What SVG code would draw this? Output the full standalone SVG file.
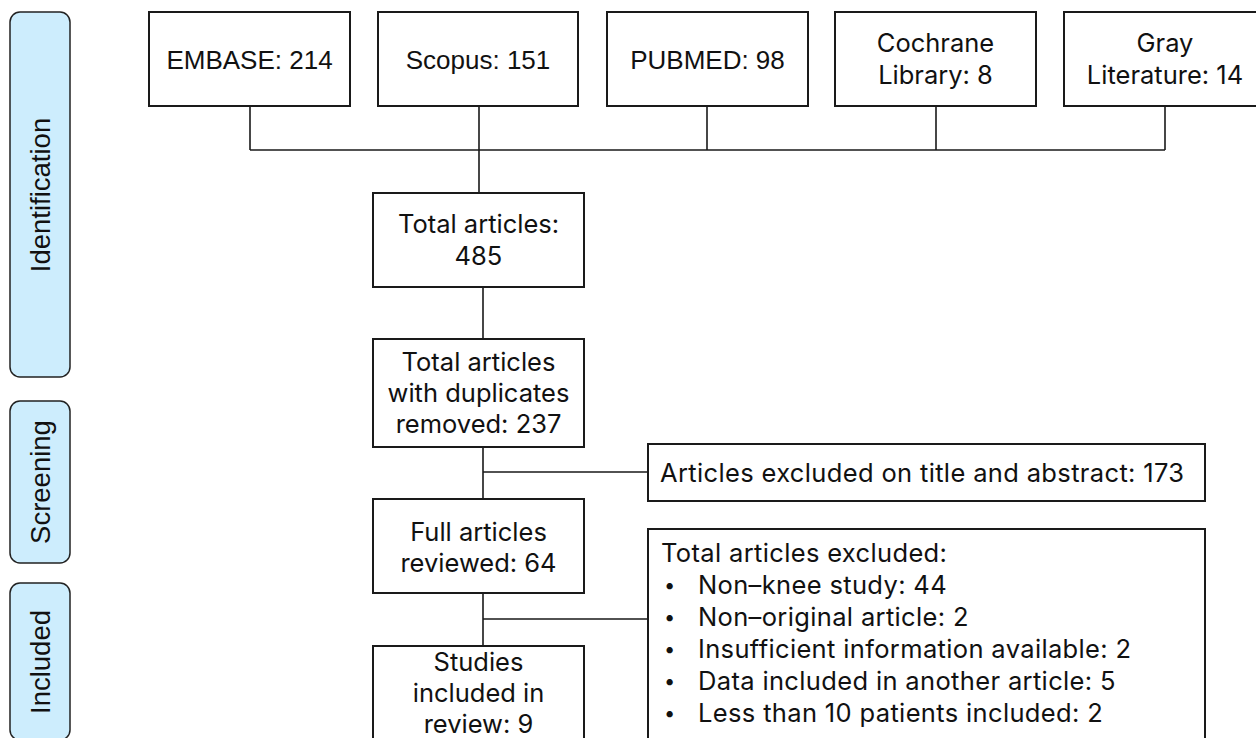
<svg xmlns="http://www.w3.org/2000/svg" width="1256" height="738" viewBox="0 0 1256 738">
<style>
.phase{fill:#cdedfd;stroke:#222;stroke-width:1.5}
.box{fill:#fff;stroke:#1a1a1a;stroke-width:2}
.ln{fill:none;stroke:#1a1a1a;stroke-width:1.6}
.t{font-family:Inter,"Noto Sans",sans-serif;font-size:25.5px;fill:#111;text-anchor:middle}
.h{font-family:"Liberation Sans",Arial,sans-serif;font-size:26px;fill:#111;text-anchor:middle}
.l{font-family:Inter,"Noto Sans",sans-serif;font-size:25.5px;fill:#111;letter-spacing:0.35px}
.b{font-family:Inter,"Noto Sans",sans-serif;font-size:20px;fill:#111}
.p{font-family:"Liberation Sans",Arial,sans-serif;font-size:27.5px;fill:#111;text-anchor:middle}
</style>
<rect width="1256" height="738" fill="#fff"/>
<g id="phase-identification">
<rect class="phase" x="10" y="12" width="60" height="365" rx="10"/>
<text class="p" transform="translate(50,195) rotate(-90)">Identification</text>
</g>
<g id="phase-screening">
<rect class="phase" x="10" y="401" width="60" height="162" rx="10"/>
<text class="p" transform="translate(50,482) rotate(-90)">Screening</text>
</g>
<g id="phase-included">
<rect class="phase" x="10" y="583" width="60" height="157" rx="10"/>
<text class="p" transform="translate(50,662) rotate(-90)">Included</text>
</g>
<g id="connectors">
<path class="ln" d="M250 106V150M479 106V193M707 106V150M936 106V150M1165 106V150M250 150H1165"/>
<path class="ln" d="M483 287V339M483 447V499M483 472H648M483 593V646M483 619H648"/>
</g>
<g id="embase">
<rect class="box" x="149" y="12" width="201" height="94"/>
<text class="h" x="249.5" y="69">EMBASE: 214</text>
</g>
<g id="scopus">
<rect class="box" x="378" y="12" width="200" height="94"/>
<text class="h" x="478" y="69">Scopus: 151</text>
</g>
<g id="pubmed">
<rect class="box" x="607" y="12" width="201" height="94"/>
<text class="h" x="707.5" y="69">PUBMED: 98</text>
</g>
<g id="cochrane">
<rect class="box" x="835" y="12" width="201" height="94"/>
<text class="t" x="935.5" y="52">Cochrane</text>
<text class="t" x="935.5" y="84">Library: 8</text>
</g>
<g id="gray">
<rect class="box" x="1064" y="12" width="202" height="94"/>
<text class="t" x="1165" y="52">Gray</text>
<text class="t" x="1165" y="84">Literature: 14</text>
</g>
<g id="total">
<rect class="box" x="373" y="193" width="211" height="94"/>
<text class="t" x="478.5" y="233">Total articles:</text>
<text class="t" x="478.5" y="265">485</text>
</g>
<g id="dedup">
<rect class="box" x="373" y="339" width="211" height="108"/>
<text class="t" x="478.5" y="371">Total articles</text>
<text class="t" x="478.5" y="402">with duplicates</text>
<text class="t" x="478.5" y="433">removed: 237</text>
</g>
<g id="excluded-title">
<rect class="box" x="648" y="444" width="557" height="57"/>
<text class="l" x="660" y="482">Articles excluded on title and abstract: 173</text>
</g>
<g id="full">
<rect class="box" x="373" y="499" width="211" height="94"/>
<text class="t" x="478.5" y="541">Full articles</text>
<text class="t" x="478.5" y="572">reviewed: 64</text>
</g>
<g id="excluded-full">
<rect class="box" x="648" y="529" width="557" height="220"/>
<text class="l" x="661" y="562">Total articles excluded:</text>
<text class="b" x="664" y="592">•</text><text class="l" x="698" y="594">Non–knee study: 44</text>
<text class="b" x="664" y="624">•</text><text class="l" x="698" y="626">Non–original article: 2</text>
<text class="b" x="664" y="656">•</text><text class="l" x="698" y="658">Insufficient information available: 2</text>
<text class="b" x="664" y="688">•</text><text class="l" x="698" y="690">Data included in another article: 5</text>
<text class="b" x="664" y="720">•</text><text class="l" x="698" y="722">Less than 10 patients included: 2</text>
</g>
<g id="studies">
<rect class="box" x="373" y="646" width="211" height="110"/>
<text class="t" x="478.5" y="671">Studies</text>
<text class="t" x="478.5" y="702">included in</text>
<text class="t" x="478.5" y="733">review: 9</text>
</g>
</svg>
